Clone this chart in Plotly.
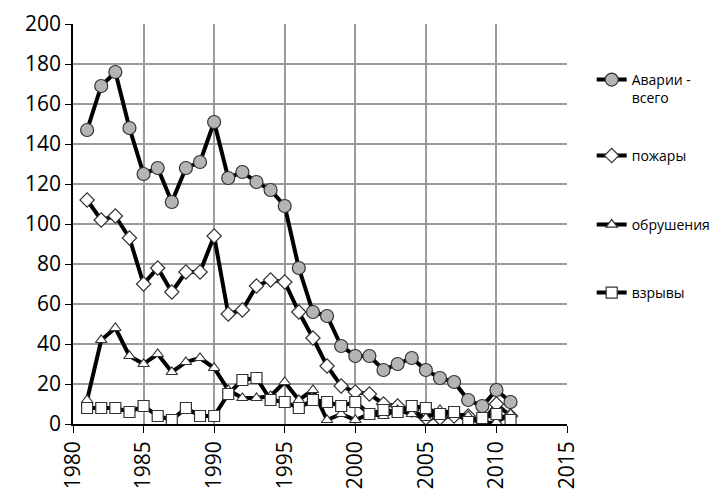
import plotly.graph_objects as go

# годы
years = list(range(1981, 2012))

# Аварии - всего
avarii = [147, 169, 176, 148, 125, 128, 111, 128, 131, 151,
          123, 126, 121, 117, 109, 78, 56, 54, 39, 34,
          34, 27, 30, 33, 27, 23, 21, 12, 9, 17, 11]

# пожары
pozhary = [112, 102, 104, 93, 70, 78, 66, 76, 76, 94,
           55, 57, 69, 72, 71, 56, 43, 29, 19, 16,
           15, 10, 9, 7, 3, 3, 4, 4, 1, 10, 4]

# обрушения
obrusheniya = [12, 42, 48, 34, 30, 35, 26, 31, 33, 28,
               17, 13, 13, 14, 21, 12, 17, 2, 5, 2,
               5, 4, 7, 5, 3, 7, 5, 4, 0, 1, 5]

# взрывы
vzryvy = [8, 8, 8, 6, 9, 4, 2, 8, 4, 4,
          15, 22, 23, 12, 11, 8, 12, 11, 9, 11,
          5, 7, 6, 9, 8, 5, 6, 1, 3, 5, 2]

series = [
    ("Аварии -<br>всего", avarii, "circle", "#b4b4b4", 13),
    ("пожары", pozhary, "diamond", "white", 11),
    ("обрушения", obrusheniya, "triangle-up", "white", 10),
    ("взрывы", vzryvy, "square", "white", 11),
]
legend_ids = ["legend", "legend2", "legend3", "legend4"]
legend_y = [0.9, 0.71, 0.5375, 0.3675]

fig = go.Figure()
for (name, vals, sym, fill, size), lid in zip(series, legend_ids):
    fig.add_trace(go.Scatter(
        x=years, y=vals, name=name, mode="lines+markers",
        legend=lid,
        line=dict(color="black", width=4),
        marker=dict(symbol=sym, size=size, color=fill,
                    line=dict(color="#333333", width=1.2)),
    ))

leg_style = dict(x=1.05, xanchor="left", yanchor="top",
                 font=dict(size=14), valign="top", itemwidth=30,
                 bgcolor="rgba(0,0,0,0)")

# страница сдвинута на 8px (отступ body), поэтому поля меньше
fig.update_layout(
    width=720, height=498,
    margin=dict(l=65, r=161, t=16, b=82, autoexpand=False),
    paper_bgcolor="white", plot_bgcolor="white",
    font=dict(family="Open Sans", color="#000000"),
    showlegend=True,
    legend=dict(y=legend_y[0], **leg_style),
    legend2=dict(y=legend_y[1], **leg_style),
    legend3=dict(y=legend_y[2], **leg_style),
    legend4=dict(y=legend_y[3], **leg_style),
)
fig.update_xaxes(
    range=[1980, 2015], tickvals=list(range(1980, 2016, 5)),
    tickangle=-90, tickfont=dict(size=21), automargin=False,
    showgrid=True, gridcolor="#9a9a9a", gridwidth=1.5,
    showline=True, linecolor="black", linewidth=1.5,
    ticks="outside", ticklen=7, tickcolor="black", zeroline=False,
)
fig.update_yaxes(
    range=[0, 200], dtick=20, tickfont=dict(size=21), automargin=False,
    showgrid=True, gridcolor="#9a9a9a", gridwidth=1.5,
    showline=True, linecolor="black", linewidth=1.5,
    ticks="outside", ticklen=6, tickcolor="black", zeroline=False,
)

fig.write_html("out.html")
